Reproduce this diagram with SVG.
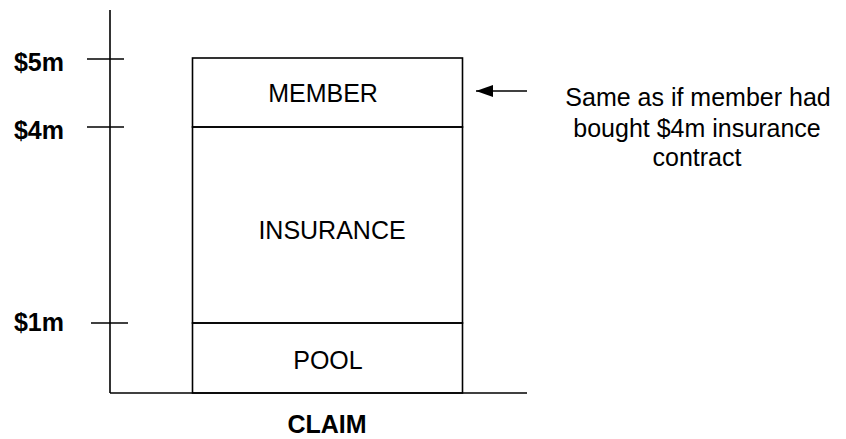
<svg xmlns="http://www.w3.org/2000/svg" width="846" height="439" viewBox="0 0 846 439">
<style>
.ln{stroke:#000;stroke-width:1.6;fill:none}
.t{font-family:"Liberation Sans",Arial,sans-serif;font-size:25px;fill:#000;text-anchor:middle}
.b{font-weight:bold}
</style>
<defs>
<marker id="ah" markerWidth="18" markerHeight="12" refX="17" refY="6" orient="auto" markerUnits="userSpaceOnUse">
<path d="M0,0 L17,6 L0,12 z" fill="#000"/>
</marker>
</defs>
<rect width="846" height="439" fill="#fff"/>
<g id="axes">
<line class="ln" x1="110" y1="10" x2="110" y2="393"/>
<line class="ln" x1="110" y1="393" x2="527" y2="393"/>
<line class="ln" x1="87" y1="59" x2="124" y2="59"/>
<line class="ln" x1="87" y1="127" x2="124" y2="127"/>
<line class="ln" x1="91" y1="323" x2="128" y2="323"/>
<text class="t b" x="39" y="71">$5m</text>
<text class="t b" x="39" y="139">$4m</text>
<text class="t b" x="39" y="331">$1m</text>
<text class="t b" x="327" y="433">CLAIM</text>
</g>
<g id="member">
<rect class="ln" x="192.5" y="58" width="270" height="69"/>
<text class="t" x="323" y="102">MEMBER</text>
</g>
<g id="insurance">
<rect class="ln" x="192.5" y="127" width="270" height="196"/>
<text class="t" x="332" y="239">INSURANCE</text>
</g>
<g id="pool">
<rect class="ln" x="192.5" y="323" width="270" height="70"/>
<text class="t" x="328" y="369">POOL</text>
</g>
<g id="connectors">
<line class="ln" x1="527" y1="91" x2="476" y2="91" marker-end="url(#ah)"/>
</g>
<g id="note">
<text class="t" x="698" y="106">Same as if member had</text>
<text class="t" x="697" y="137">bought $4m insurance</text>
<text class="t" x="697" y="166">contract</text>
</g>
</svg>
